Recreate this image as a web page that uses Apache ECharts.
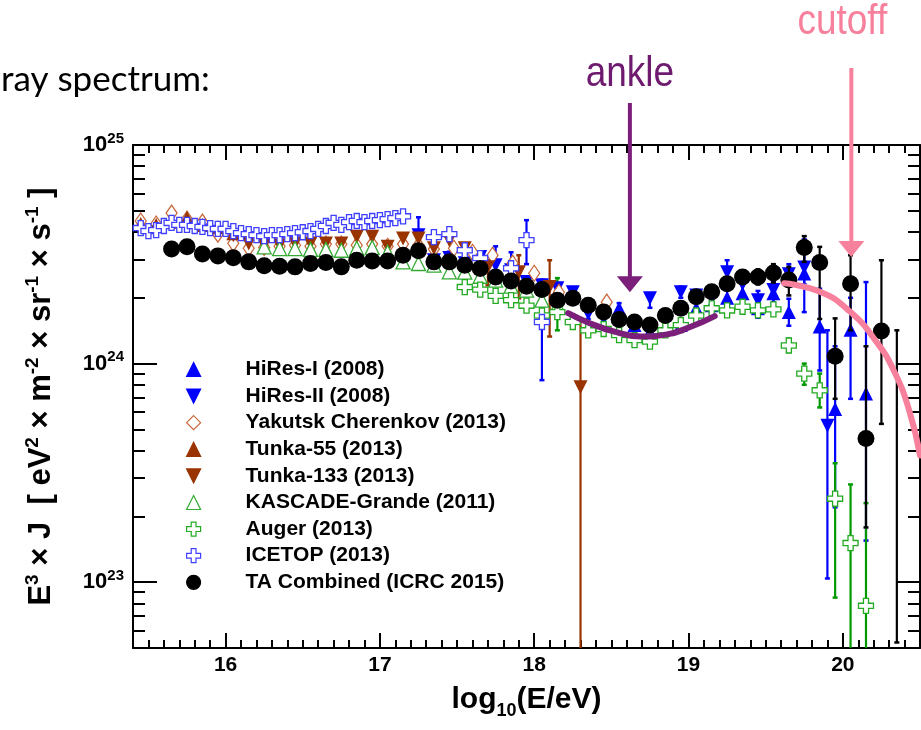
<!DOCTYPE html>
<html><head><meta charset="utf-8">
<script src="https://cdn.jsdelivr.net/npm/echarts@6/dist/echarts.min.js"></script>
<style>html,body{margin:0;padding:0;background:#fff}#c{width:921px;height:730px}</style>
</head><body><div id="c"></div>
<script>
// ---------- axes ----------
const X_MIN = 15.4, X_MAX = 20.5;
const Y_MIN = 5e22, Y_MAX = 1e25;
const xMajorTicks = [16, 17, 18, 19, 20];
const yMajorTicks = [1e23, 1e24, 1e25];

// ---------- data (log10(E/eV), E^3 J) ----------
const hr1X = [18.55,18.65,18.75,18.85,18.95,19.05,19.15,19.25,19.35,19.45,19.55,19.65,19.75,19.85,19.95,20.05,20.15];
const hr1Y = [1.79e24,1.50e24,1.40e24,1.45e24,1.50e24,1.79e24,1.85e24,2.00e24,2.10e24,1.79e24,2.10e24,1.72e24,2.58e24,1.48e24,6.2e23,1.43e24,7.3e23];
const hr1Lo = [1.70e24,1.42e24,1.32e24,1.37e24,1.41e24,1.68e24,1.72e24,1.85e24,1.93e24,1.62e24,1.86e24,1.49e24,1.72e24,9.3e23,2.2e23,6.9e23,1.55e23];
const hr1Hi = [1.89e24,1.60e24,1.48e24,1.54e24,1.60e24,1.91e24,1.99e24,2.17e24,2.30e24,1.98e24,2.37e24,1.98e24,3.70e24,2.20e24,1.20e24,2.00e24,2.36e24];

const hr2X = [17.25,17.35,17.45,17.55,17.65,17.75,17.85,17.95,18.05,18.15,18.25,18.35,18.45,18.55,18.65,18.75,18.85,18.95,19.05,19.15,19.25,19.35,19.45,19.55,19.65,19.75,19.90];
const hr2Y = [3.87e24,2.97e24,3.04e24,2.88e24,3.07e24,2.82e24,2.67e24,2.36e24,2.28e24,2.21e24,2.12e24,1.69e24,1.61e24,1.55e24,1.42e24,1.99e24,1.61e24,2.12e24,2.05e24,1.99e24,2.62e24,2.31e24,1.95e24,2.17e24,2.56e24,2.75e24,5.2e23];
const hr2Lo = [3.30e24,2.80e24,2.85e24,2.60e24,2.90e24,2.55e24,2.12e24,2.20e24,2.15e24,2.10e24,2.02e24,1.60e24,1.53e24,1.47e24,1.35e24,1.80e24,1.52e24,2.00e24,1.93e24,1.86e24,2.30e24,2.10e24,1.75e24,1.90e24,2.25e24,2.30e24,1.04e23];
const hr2Hi = [4.67e24,3.10e24,3.25e24,3.20e24,3.25e24,3.44e24,3.23e24,2.50e24,2.42e24,2.32e24,2.22e24,1.78e24,1.69e24,1.63e24,1.50e24,2.08e24,1.70e24,2.25e24,2.17e24,2.12e24,2.97e24,2.50e24,2.15e24,2.45e24,2.85e24,3.30e24,1.42e24];

const yakX = [15.45,15.55,15.65,15.75,15.85,15.95,16.05,16.15,16.25,16.35,16.45,16.55,16.65,16.75,16.85,16.95,17.05,17.15,17.25,17.35,17.48,17.6,17.73,17.86,18.0,18.16,18.47];
const yakY = [4.49e24,4.35e24,4.88e24,4.58e24,4.44e24,3.91e24,3.55e24,3.37e24,3.40e24,3.44e24,3.48e24,3.44e24,3.52e24,3.52e24,3.48e24,3.52e24,3.44e24,3.52e24,3.48e24,3.34e24,3.37e24,3.23e24,3.13e24,2.88e24,2.59e24,2.12e24,1.91e24];

const t55X = [15.45,15.55,15.65,15.75,15.85,15.95,16.05];
const t55Y = [4.35e24,4.30e24,4.45e24,4.63e24,4.30e24,4.21e24,3.95e24];

const t133X = [16.05,16.15,16.25,16.35,16.45,16.55,16.65,16.75,16.85,16.95,17.05,17.15,17.25,17.35,17.45,17.55,17.7,17.9,18.1,18.3];
const t133Y = [3.87e24,3.54e24,3.48e24,3.48e24,3.54e24,3.54e24,3.54e24,3.54e24,3.80e24,3.80e24,3.42e24,3.73e24,3.73e24,3.37e24,3.67e24,3.37e24,2.76e24,2.62e24,2.24e24,7.8e23];
const t133ErrX = [17.7, 17.9, 18.1, 18.3];
const t133Lo = [2.28e24, 1.99e24, 1.33e24, 1e22];
const t133Hi = [2.97e24, 3.13e24, 2.97e24, 1.58e24];

const kgX = [16.25,16.35,16.45,16.55,16.65,16.75,16.85,16.95,17.05,17.15,17.25,17.35,17.45,17.55,17.65,17.75,17.85,17.95,18.05,18.15];
const kgY = [3.42e24,3.36e24,3.36e24,3.33e24,3.33e24,3.30e24,3.37e24,3.40e24,3.23e24,2.92e24,2.87e24,2.82e24,2.63e24,2.62e24,2.51e24,2.41e24,2.26e24,2.17e24,1.95e24,1.85e24];
const kgErrX = [17.95, 18.05, 18.15];
const kgLo = [2.05e24, 1.78e24, 1.42e24];
const kgHi = [2.30e24, 2.15e24, 2.46e24];

const augX = [17.55,17.65,17.75,17.85,17.95,18.05,18.15,18.25,18.35,18.45,18.55,18.65,18.75,18.85,18.95,19.05,19.15,19.25,19.35,19.45,19.55,19.65,19.75,19.85,19.95,20.05,20.15];
const augY = [2.24e24,2.18e24,2.04e24,1.95e24,1.84e24,1.66e24,1.72e24,1.55e24,1.42e24,1.44e24,1.35e24,1.28e24,1.26e24,1.42e24,1.50e24,1.66e24,1.79e24,1.75e24,1.82e24,1.75e24,1.77e24,1.21e24,9.0e23,7.55e23,2.41e23,1.51e23,7.8e22];
const augErrX = [19.65, 19.75, 19.85, 19.95, 20.05, 20.15];
const augLo = [1.13e24, 8.0e23, 6.3e23, 8.5e22, 1e22, 1e22];
const augHi = [1.30e24, 1.0e24, 9.0e23, 3.5e23, 2.8e23, 2.3e23];

const icX = [15.45,15.50,15.55,15.60,15.65,15.70,15.75,15.80,15.85,15.90,15.95,16.00,16.05,16.10,16.15,16.20,16.25,16.30,16.35,16.40,16.45,16.50,16.55,16.60,16.65,16.70,16.75,16.80,16.85,16.90,16.95,17.00,17.05,17.10,17.15,17.35,17.45,17.55,17.65,17.85,17.95,18.05];
const icY = [4.17e24,4.04e24,4.08e24,4.26e24,4.40e24,4.31e24,4.31e24,4.26e24,4.22e24,4.17e24,4.13e24,4.13e24,4.04e24,3.95e24,3.91e24,3.87e24,3.83e24,3.87e24,3.87e24,3.91e24,3.95e24,3.99e24,4.04e24,4.13e24,4.26e24,4.40e24,4.31e24,4.44e24,4.49e24,4.44e24,4.49e24,4.53e24,4.58e24,4.63e24,4.72e24,3.79e24,3.91e24,3.30e24,3.04e24,2.73e24,3.67e24,1.55e24];
const icErrX = [17.95, 18.05];
const icLo = [2.85e24, 8.4e23];
const icHi = [4.53e24, 2.31e24];

const taX = [15.65,15.75,15.85,15.95,16.05,16.15,16.25,16.35,16.45,16.55,16.65,16.75,16.85,16.95,17.05,17.15,17.25,17.35,17.45,17.55,17.65,17.75,17.85,17.95,18.05,18.15,18.25,18.35,18.45,18.55,18.65,18.75,18.85,18.95,19.05,19.15,19.25,19.35,19.45,19.55,19.65,19.75,19.85,19.95,20.05,20.15,20.25];
const taY = [3.34e24,3.42e24,3.17e24,3.11e24,3.05e24,2.92e24,2.80e24,2.79e24,2.77e24,2.87e24,2.90e24,2.77e24,2.97e24,2.95e24,2.95e24,3.13e24,3.28e24,2.92e24,2.92e24,2.82e24,2.72e24,2.49e24,2.39e24,2.26e24,2.18e24,1.95e24,1.99e24,1.85e24,1.72e24,1.59e24,1.55e24,1.50e24,1.66e24,1.79e24,2.02e24,2.13e24,2.32e24,2.49e24,2.49e24,2.60e24,2.41e24,3.40e24,2.90e24,1.08e24,2.32e24,4.54e23,1.41e24];
const taErrX = [19.45,19.55,19.65,19.75,19.85,19.95,20.05,20.15,20.25,20.35];
const taLo = [2.30e24,2.35e24,2.05e24,2.92e24,1.60e24,6.9e23,1.42e24,1.78e23,5.3e23,5.3e22];
const taHi = [2.70e24,2.85e24,2.77e24,3.83e24,3.42e24,1.61e24,3.13e24,1.20e24,2.97e24,1.42e24];

// fits drawn on the slide
const ankleFitX = [18.22,18.36,18.52,18.69,18.86,19.01,19.17];
const ankleFitY = [1.70e24,1.53e24,1.40e24,1.33e24,1.36e24,1.47e24,1.65e24];
const cutoffFitX = [19.62,19.86,20.05,20.21,20.33,20.43,20.5];
const cutoffFitY = [2.33e24,2.12e24,1.72e24,1.28e24,9.3e23,6.1e23,3.8e23];

// annotations
const ankleArrow = { x: 18.62, tip: 2.12e24, label: 'ankle' };
const cutoffArrow = { x: 20.055, tip: 3.07e24, label: 'cutoff' };
const slideText = 'ray spectrum:';

const names = ['HiRes-I (2008)','HiRes-II (2008)','Yakutsk Cherenkov (2013)','Tunka-55 (2013)','Tunka-133 (2013)','KASCADE-Grande (2011)','Auger (2013)','ICETOP (2013)','TA Combined (ICRC 2015)'];

// ---------- helpers ----------
const lg = v => Math.log10(v);
const FONT = 'Liberation Sans';
const plusPath = 'path://M3.3,0 H6.7 V3.3 H10 V6.7 H6.7 V10 H3.3 V6.7 H0 V3.3 H3.3 Z';
const downTri = 'path://M0,0 L10,0 L5,10 Z';

function scat(name, xs, ys, symbol, size, color, hollow, z) {
  return {
    type: 'scatter', name, z, silent: true, clip: true,
    data: xs.map((x, i) => [x, lg(ys[i])]),
    symbol, symbolSize: size,
    itemStyle: { color: hollow ? '#ffffff' : color, borderColor: color, borderWidth: hollow ? 1.3 : 0, opacity: 1 }
  };
}
function errBars(name, xs, lo, hi, color, z) {
  return {
    type: 'custom', name: name + ' err', z, silent: true, clip: true,
    data: xs.map((x, i) => [x, lg(lo[i]), lg(hi[i])]),
    encode: { x: 0, y: [1, 2] },
    renderItem(params, api) {
      const x = api.value(0);
      const pHi = api.coord([x, api.value(2)]);
      const pLo = api.coord([x, api.value(1)]);
      const cs = params.coordSys;
      const top = Math.max(pHi[1], cs.y), bot = Math.min(pLo[1], cs.y + cs.height);
      const ch = [{ type: 'line', shape: { x1: pHi[0], y1: top, x2: pHi[0], y2: bot }, style: { stroke: color, lineWidth: 2.2 } }];
      if (pHi[1] >= cs.y) ch.push({ type: 'line', shape: { x1: pHi[0] - 2.5, y1: pHi[1], x2: pHi[0] + 2.5, y2: pHi[1] }, style: { stroke: color, lineWidth: 2.5 } });
      if (pLo[1] <= cs.y + cs.height) ch.push({ type: 'line', shape: { x1: pLo[0] - 2.5, y1: pLo[1], x2: pLo[0] + 2.5, y2: pLo[1] }, style: { stroke: color, lineWidth: 2.5 } });
      return { type: 'group', children: ch };
    }
  };
}

const xMinor = []; for (let i = 154; i <= 205; i++) xMinor.push(i / 10);
const yMinor = [];
for (let n = 22; n <= 24; n++) for (let k = 2; k <= 9; k++) { const v = lg(k) + n; if (v >= lg(Y_MIN) && v <= lg(Y_MAX)) yMinor.push(v); }
const yMajor = yMajorTicks.map(lg);

const axisLine = { show: true, lineStyle: { color: '#000', width: 2 } };
function xAx(pos, major, labels) {
  return {
    type: 'value', min: X_MIN, max: X_MAX, position: pos, nameMoveOverlap: false,
    axisLine: major ? axisLine : { show: false },
    splitLine: { show: false },
    axisTick: { show: true, inside: true, length: major ? 15 : 8, customValues: major ? xMajorTicks : xMinor, lineStyle: { color: '#000', width: 2 } },
    axisLabel: labels ? { show: true, customValues: xMajorTicks, color: '#000', fontFamily: FONT, fontWeight: 'bold', fontSize: 21, margin: 7 } : { show: false }
  };
}
function yAx(pos, major, labels) {
  return {
    type: 'value', min: lg(Y_MIN), max: lg(Y_MAX), position: pos, nameMoveOverlap: false,
    axisLine: major ? axisLine : { show: false },
    splitLine: { show: false },
    axisTick: { show: true, inside: true, length: major ? 24 : 12, customValues: major ? yMajor : yMinor, lineStyle: { color: '#000', width: 2 } },
    axisLabel: labels ? {
      show: true, customValues: yMajor, margin: 9,
      formatter: v => '{b|10}{s|' + Math.round(v) + '}',
      color: '#000', fontFamily: FONT, fontWeight: 'bold', fontSize: 21,
      rich: {
        b: { fontFamily: FONT, fontWeight: 'bold', fontSize: 22, lineHeight: 28, color: '#000' },
        s: { fontFamily: FONT, fontWeight: 'bold', fontSize: 15, lineHeight: 15, verticalAlign: 'top', color: '#000' }
      }
    } : { show: false }
  };
}

const xAxes = [xAx('bottom', true, true), xAx('bottom', false, false), xAx('top', true, false), xAx('top', false, false)];
xAxes[0].name = 'log{b|10}(E/eV)';
xAxes[0].nameLocation = 'middle';
xAxes[0].nameGap = 32;
xAxes[0].nameTextStyle = { color: '#000', fontFamily: FONT, fontWeight: 'bold', fontSize: 30, lineHeight: 40,
  rich: { b: { fontFamily: FONT, fontWeight: 'bold', fontSize: 18, lineHeight: 18, verticalAlign: 'bottom', color: '#000' } } };

const yAxes = [yAx('left', true, true), yAx('left', false, false), yAx('right', true, false), yAx('right', false, false)];
yAxes[0].name = 'E{s|3} × J  [ eV{s|2} × m{s|-2} × sr{s|-1} × s{s|-1} ]';
yAxes[0].nameLocation = 'middle';
yAxes[0].nameRotate = 90;
yAxes[0].nameGap = 74;
yAxes[0].nameTextStyle = { color: '#000', fontFamily: FONT, fontWeight: 'bold', fontSize: 31, lineHeight: 36,
  rich: { s: { fontFamily: FONT, fontWeight: 'bold', fontSize: 19, lineHeight: 19, verticalAlign: 'top', color: '#000' } } };

const BLUE = '#0000ff', BROWN = '#993300', YAK = '#c8693c', KG = '#33aa33', AUG = '#22aa22', AUGBAR = '#009900', ICE = '#3f3fff';

const series = [
  errBars(names[0], hr1X, hr1Lo, hr1Hi, BLUE, 2),
  scat(names[0], hr1X, hr1Y, 'triangle', 14, BLUE, false, 3),
  errBars(names[1], hr2X, hr2Lo, hr2Hi, BLUE, 2),
  scat(names[1], hr2X, hr2Y, downTri, 14, BLUE, false, 3),
  scat(names[2], yakX, yakY, 'diamond', [11, 16], YAK, true, 3),
  scat(names[3], t55X, t55Y, 'triangle', 14, BROWN, false, 3),
  errBars(names[4], t133ErrX, t133Lo, t133Hi, BROWN, 2),
  scat(names[4], t133X, t133Y, downTri, 14, BROWN, false, 3),
  errBars(names[5], kgErrX, kgLo, kgHi, AUGBAR, 2),
  scat(names[5], kgX, kgY, 'triangle', 14, KG, true, 3),
  errBars(names[6], augErrX, augLo, augHi, AUGBAR, 2),
  scat(names[6], augX, augY, plusPath, 15, AUG, true, 4),
  errBars(names[7], icErrX, icLo, icHi, BLUE, 2),
  scat(names[7], icX, icY, plusPath, 15, ICE, true, 4),
  errBars(names[8], taErrX, taLo, taHi, '#000', 4),
  scat(names[8], taX, taY, 'circle', 17, '#000', false, 5),
  { type: 'line', name: 'ankle fit', z: 6, silent: true, smooth: true, symbol: 'none', clip: true,
    data: ankleFitX.map((x, i) => [x, lg(ankleFitY[i])]), lineStyle: { color: '#7b1f7b', width: 6, cap: 'round' } },
  { type: 'line', name: 'cutoff fit', z: 6, silent: true, smooth: true, symbol: 'none', clip: true,
    data: cutoffFitX.map((x, i) => [x, lg(cutoffFitY[i])]), lineStyle: { color: '#f7809c', width: 6, cap: 'round' } }
];

const option = {
  animation: false,
  backgroundColor: '#ffffff',
  grid: { left: 133, top: 145, right: 1, bottom: 82, containLabel: false, outerBoundsMode: 'none', show: false },
  xAxis: xAxes,
  yAxis: yAxes,
  legend: {
    data: names, orient: 'vertical', left: 181, top: 354, itemWidth: 14, itemHeight: 14, itemGap: 5.6,
    selectedMode: false,
    itemStyle: { borderWidth: 1.2 },
    textStyle: { fontFamily: FONT, fontWeight: 'bold', fontSize: 21, color: '#000', lineHeight: 20, padding: [0, 0, 0, 40] }
  },
  series
};

const chart = echarts.init(document.getElementById('c'), null, { renderer: 'canvas' });
chart.setOption(option);

function arrowEls(a, topY, color) {
  const p = chart.convertToPixel({ gridIndex: 0 }, [a.x, lg(a.tip)]);
  return [
    { type: 'line', z: 100, shape: { x1: p[0], y1: topY, x2: p[0], y2: p[1] - 10 }, style: { stroke: color, lineWidth: 4 } },
    { type: 'polygon', z: 100, shape: { points: [[p[0] - 13, p[1] - 16], [p[0] + 13, p[1] - 16], [p[0], p[1]]] }, style: { fill: color } }
  ];
}
const pA = chart.convertToPixel({ gridIndex: 0 }, [ankleArrow.x, lg(ankleArrow.tip)]);
const pC = chart.convertToPixel({ gridIndex: 0 }, [cutoffArrow.x, lg(cutoffArrow.tip)]);
chart.setOption({
  graphic: [].concat(
    arrowEls(ankleArrow, 103, '#7b1f7b'),
    arrowEls(cutoffArrow, 68, '#f7809c'),
    [
      { type: 'text', z: 100, x: pA[0], y: 74, scaleX: 0.86, style: { text: ankleArrow.label, font: '43px "Liberation Sans"', fill: '#6e1a6e', align: 'center', verticalAlign: 'middle' } },
      { type: 'text', z: 100, x: pC[0] - 9, y: 22, scaleX: 0.86, style: { text: cutoffArrow.label, font: '43px "Liberation Sans"', fill: '#f7809c', align: 'center', verticalAlign: 'middle' } },
      { type: 'text', z: 100, x: 1, y: 80, style: { text: slideText, font: '35px Lato', fill: '#000', align: 'left', verticalAlign: 'middle' } }
    ]
  )
});
</script>
</body></html>
